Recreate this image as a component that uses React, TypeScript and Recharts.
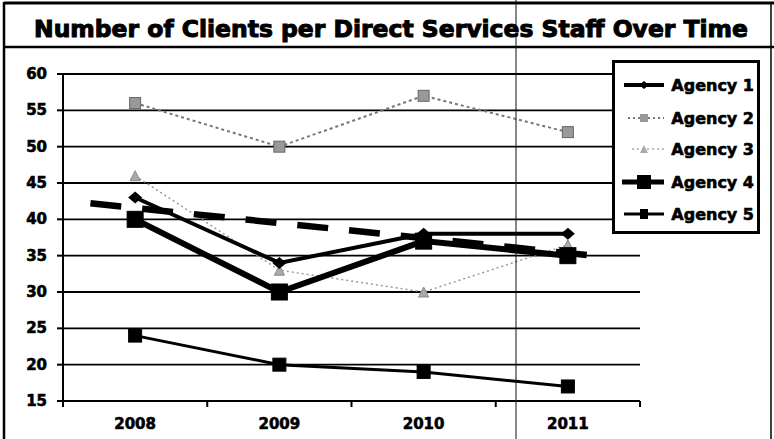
import React from 'react';
import { LineChart, Line, XAxis, YAxis, CartesianGrid, Legend } from 'recharts';

const years = ['2008', '2009', '2010', '2011'];
const agency1 = [43, 34, 38, 38];
const agency2 = [56, 50, 57, 52];
const agency3 = [46, 33, 30, 36.5];
const agency4 = [40, 30, 37, 35];
const agency5 = [24, 20, 19, 17];
const trendX = [-0.31, 3.17];
const trendY = [42.2, 35];
const yTicks = [15, 20, 25, 30, 35, 40, 45, 50, 55, 60];
const xTicks = [-0.5, 0, 0.5, 1, 1.5, 2, 2.5, 3, 3.5];
const seriesNames = ['Agency 1', 'Agency 2', 'Agency 3', 'Agency 4', 'Agency 5'];

const data = years.map((y, i) => ({
  x: i,
  a1: agency1[i],
  a2: agency2[i],
  a3: agency3[i],
  a4: agency4[i],
  a5: agency5[i],
}));
const trend = trendX.map((x, i) => ({ x, t: trendY[i] }));

const FONT = '"DejaVu Sans", Verdana, sans-serif';

const DiamondDot = (p: any) => {
  const { cx, cy, index } = p;
  if (cx == null || cy == null) return <g key={`d1-${index}`} />;
  return <path key={`d1-${index}`} d={`M${cx - 7},${cy} L${cx},${cy - 6} L${cx + 7},${cy} L${cx},${cy + 6} Z`} fill="#000" />;
};
const SquareDot = (size: number, fill: string, stroke: string, k: string) => (p: any) => {
  const { cx, cy, index } = p;
  if (cx == null || cy == null) return <g key={`${k}-${index}`} />;
  return <rect key={`${k}-${index}`} x={cx - size / 2} y={cy - size / 2} width={size} height={size} fill={fill} stroke={stroke} strokeWidth={1} />;
};
const TriangleDot = (p: any) => {
  const { cx, cy, index } = p;
  if (cx == null || cy == null) return <g key={`d3-${index}`} />;
  return <path key={`d3-${index}`} d={`M${cx - 5},${cy + 5} L${cx},${cy - 5} L${cx + 5},${cy + 5} Z`} fill="#aaa" stroke="#888" strokeWidth={1} />;
};

const XTick = (p: any) => {
  const { x, y, payload } = p;
  const v = payload.value;
  if (Number.isInteger(v)) {
    return (
      <text x={x} y={y + 20} textAnchor="middle" fontFamily={FONT} fontWeight="bold" fontSize={15} fill="#000" stroke="#000" strokeWidth={0.6}>
        {years[v]}
      </text>
    );
  }
  return <line x1={x} y1={y - 8} x2={x} y2={y - 2} stroke="#000" strokeWidth={2} />;
};

const YTick = (p: any) => {
  const { x, y, payload } = p;
  return (
    <text x={x} y={y + 5} textAnchor="end" fontFamily={FONT} fontWeight="bold" fontSize={15} fill="#000" stroke="#000" strokeWidth={0.6}>
      {payload.value}
    </text>
  );
};

const LegendContent = () => {
  const rowY = [85, 118, 149, 182, 214];
  return (
    <svg width={148} height={174} style={{ display: 'block' }}>
      <rect x={1.5} y={1.5} width={145} height={171} fill="#fff" stroke="#000" strokeWidth={3} />
      {seriesNames.map((n, i) => {
        const cy = rowY[i] - 60;
        let icon: React.ReactNode = null;
        if (i === 0) icon = (<g><line x1={12} y1={cy} x2={52} y2={cy} stroke="#000" strokeWidth={4} /><path d={`M${27},${cy} L${32},${cy - 4} L${37},${cy} L${32},${cy + 4} Z`} fill="#000" /></g>);
        if (i === 1) icon = (<g><line x1={16} y1={cy} x2={52} y2={cy} stroke="#777" strokeWidth={2} strokeDasharray="2 3" /><rect x={28} y={cy - 4} width={8} height={8} fill="#999" /></g>);
        if (i === 2) icon = (<g><line x1={20} y1={cy} x2={52} y2={cy} stroke="#aaa" strokeWidth={1.5} strokeDasharray="2 3" /><path d={`M${28},${cy + 4} L${32},${cy - 4} L${36},${cy + 4} Z`} fill="#aaa" /></g>);
        if (i === 3) icon = (<g><line x1={10} y1={cy} x2={52} y2={cy} stroke="#000" strokeWidth={5} /><rect x={25} y={cy - 7} width={14} height={14} fill="#000" /></g>);
        if (i === 4) icon = (<g><line x1={12} y1={cy} x2={52} y2={cy} stroke="#000" strokeWidth={3} /><rect x={28} y={cy - 5} width={8} height={10} fill="#000" /></g>);
        return (
          <g key={n}>
            {icon}
            <text x={142} y={cy + 6} textAnchor="end" fontFamily={FONT} fontWeight="bold" fontSize={16} fill="#000" stroke="#000" strokeWidth={0.6}>{n}</text>
          </g>
        );
      })}
    </svg>
  );
};

export default function App() {
  return (
    <div style={{ position: 'absolute', left: 0, top: 0, width: 774, height: 439, background: '#fff' }}>
      <LineChart width={774} height={439} data={data} margin={{ top: 74, right: 134, bottom: 8, left: 13 }}>
        <CartesianGrid horizontal vertical={false} stroke="#000" strokeWidth={1.8} strokeOpacity={1} />
        <XAxis
          type="number"
          dataKey="x"
          domain={[-0.5, 3.5]}
          ticks={xTicks}
          interval={0}
          height={30}
          axisLine={{ stroke: '#000', strokeWidth: 2 }}
          tickLine={false}
          tick={<XTick />}
          allowDataOverflow
        />
        <YAxis
          domain={[15, 60]}
          ticks={yTicks}
          interval={0}
          width={50}
          tickSize={6}
          tickMargin={10}
          axisLine={{ stroke: '#000', strokeWidth: 2 }}
          tickLine={{ stroke: '#000', strokeWidth: 2 }}
          tick={<YTick />}
          allowDataOverflow
        />
        <Legend
          layout="vertical"
          align="center"
          verticalAlign="middle"
          content={<LegendContent />}
          wrapperStyle={{ position: 'absolute', left: 612, top: 60, width: 148, height: 174 }}
        />
        <Line dataKey="a2" name="Agency 2" stroke="#777" strokeWidth={2} strokeDasharray="3 3" dot={SquareDot(11, '#999', '#666', 'd2')} isAnimationActive={false} />
        <Line dataKey="a3" name="Agency 3" stroke="#999" strokeWidth={1.5} strokeDasharray="2 3" dot={TriangleDot} isAnimationActive={false} />
        <Line data={trend} dataKey="t" name="trend" legendType="none" stroke="#000" strokeWidth={6.5} strokeDasharray="31 21" dot={false} isAnimationActive={false} />
        <Line dataKey="a5" name="Agency 5" stroke="#000" strokeWidth={3} dot={SquareDot(13, '#000', '#000', 'd5')} isAnimationActive={false} />
        <Line dataKey="a1" name="Agency 1" stroke="#000" strokeWidth={4} dot={DiamondDot} isAnimationActive={false} />
        <Line dataKey="a4" name="Agency 4" stroke="#000" strokeWidth={6} dot={SquareDot(16, '#000', '#000', 'd4')} isAnimationActive={false} />
      </LineChart>
      <svg width={774} height={439} style={{ position: 'absolute', left: 0, top: 0, pointerEvents: 'none' }}>
        <line x1={4} y1={3} x2={774} y2={3} stroke="#000" strokeWidth={3} />
        <line x1={4} y1={2} x2={4} y2={439} stroke="#000" strokeWidth={2.5} />
        <line x1={771} y1={2} x2={771} y2={439} stroke="#000" strokeWidth={1.5} />
        <line x1={4} y1={47} x2={774} y2={47} stroke="#000" strokeWidth={2.5} />
        <line x1={516} y1={0} x2={516} y2={439} stroke="#111" strokeWidth={1} />
        <text x={391} y={37} textAnchor="middle" fontFamily={FONT} fontWeight="bold" fontSize={23} fill="#000" stroke="#000" strokeWidth={1} textLength={714} lengthAdjust="spacingAndGlyphs">
          Number of Clients per Direct Services Staff Over Time
        </text>
      </svg>
    </div>
  );
}
